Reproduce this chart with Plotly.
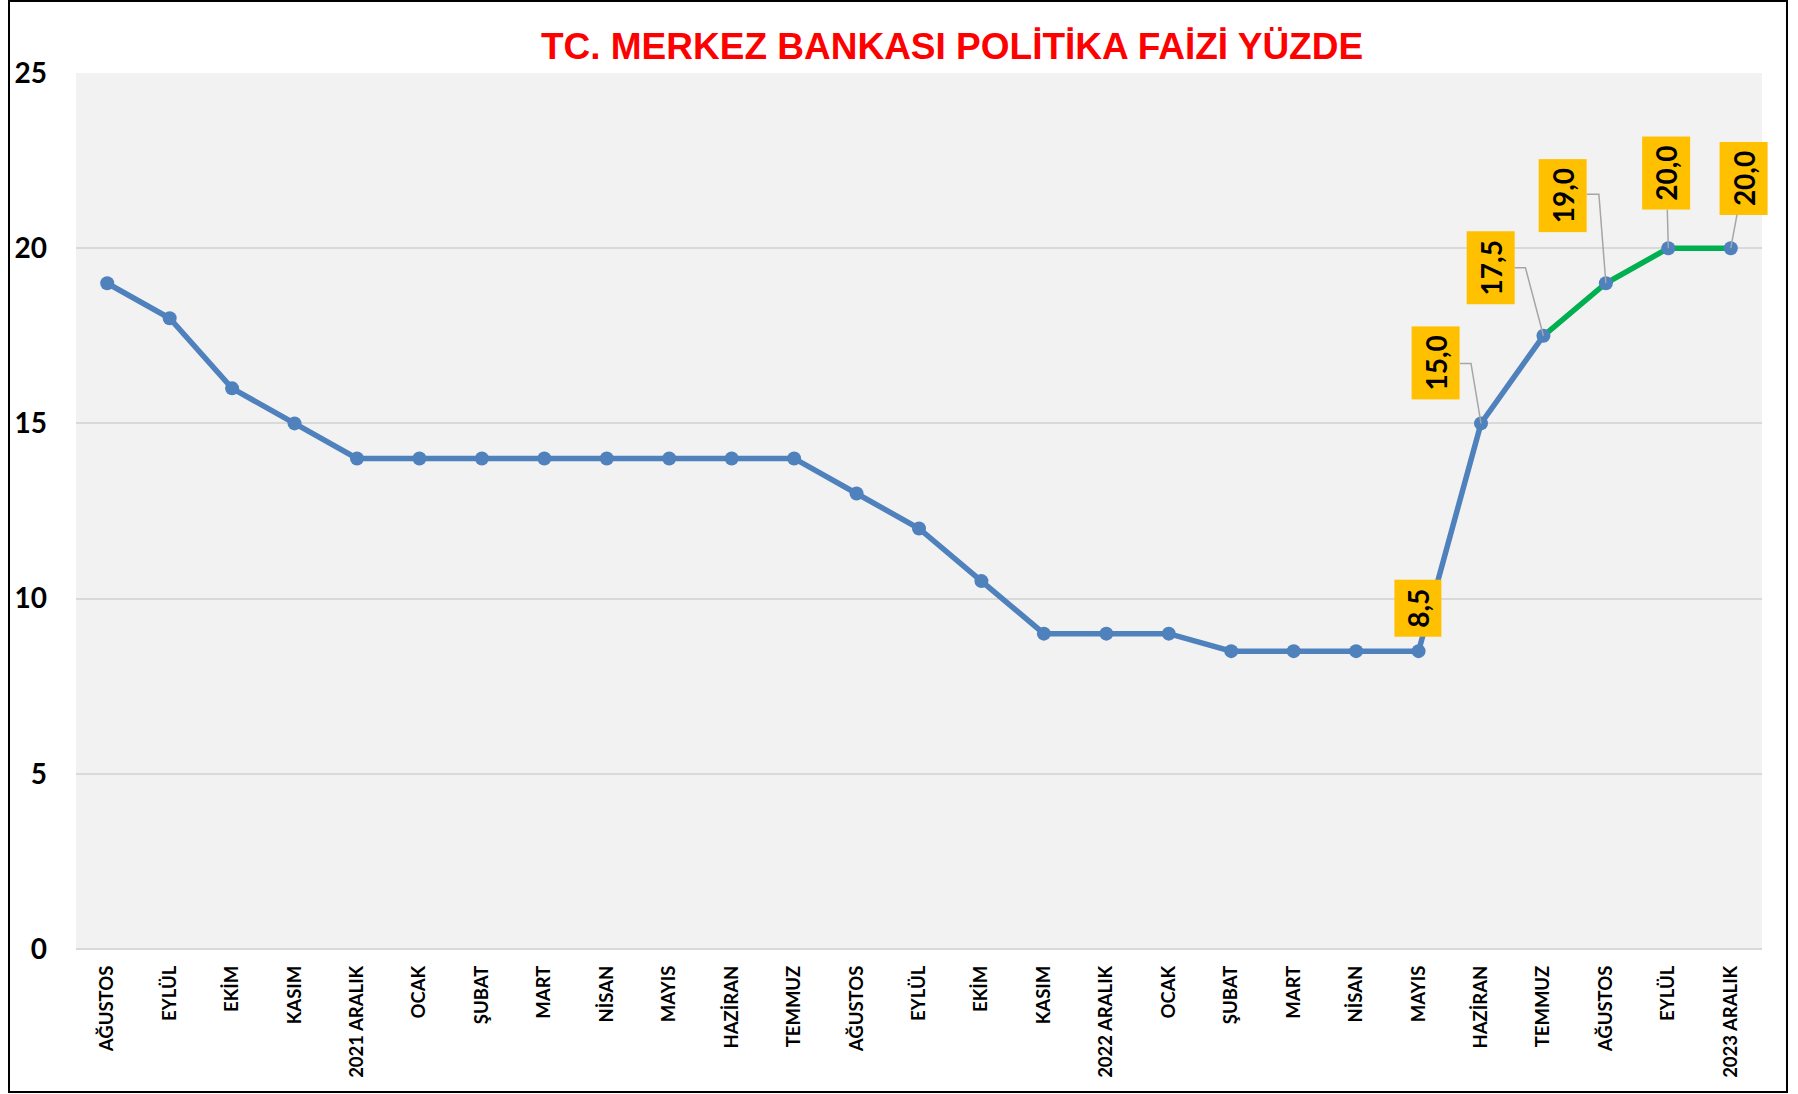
import plotly.graph_objects as go

months = ["AĞUSTOS", "EYLÜL", "EKİM", "KASIM", "2021 ARALIK", "OCAK", "ŞUBAT", "MART",
          "NİSAN", "MAYIS", "HAZİRAN", "TEMMUZ", "AĞUSTOS", "EYLÜL", "EKİM", "KASIM",
          "2022 ARALIK", "OCAK", "ŞUBAT", "MART", "NİSAN", "MAYIS", "HAZİRAN", "TEMMUZ",
          "AĞUSTOS", "EYLÜL", "2023 ARALIK"]
rates = [19, 18, 16, 15, 14, 14, 14, 14, 14, 14, 14, 14, 13, 12, 10.5, 9,
         9, 9, 8.5, 8.5, 8.5, 8.5, 15, 17.5, 19, 20, 20]
green_start = 23          # index where the green (projection) segment starts
labelled = [21, 22, 23, 24, 25, 26]   # indices with value boxes
y_ticks = [0, 5, 10, 15, 20, 25]

# label box placement (pixel offsets from point, box size along/across text)
label_offsets = {21: (-1, -43, 57, 47), 22: (-45, -60, 73, 48), 23: (-53, -68, 73, 48),
                 24: (-43, -88, 73, 48), 25: (-2, -75, 73, 48), 26: (13, -70, 73, 48)}
# elbow leader lines (pixel offsets from point: box edge, elbow), y upward
elbow_leaders = {22: ((-21, 60), (-10, 60)), 23: ((-29, 68), (-18, 68)),
                 24: ((-19, 89), (-7, 89))}

BLUE = "#4F81BD"
GREEN = "#00B050"
LEADER = "#A6A6A6"
xs = list(range(len(months)))

fig = go.Figure()
fig.add_trace(go.Scatter(x=xs[:green_start + 1], y=rates[:green_start + 1], mode="lines",
                         line=dict(color=BLUE, width=5.5), hoverinfo="skip", showlegend=False))
fig.add_trace(go.Scatter(x=xs[green_start:], y=rates[green_start:], mode="lines",
                         line=dict(color=GREEN, width=5.5), hoverinfo="skip", showlegend=False))
fig.add_trace(go.Scatter(x=xs, y=rates, mode="markers",
                         marker=dict(color=BLUE, size=14), showlegend=False))

for i, ((x1, y1), (x2, y2)) in elbow_leaders.items():
    fig.add_shape(type="path", xref="x", yref="y", xsizemode="pixel", ysizemode="pixel",
                  xanchor=xs[i], yanchor=rates[i],
                  path=f"M {x1} {y1} L {x2} {y2} L 0 0",
                  line=dict(color=LEADER, width=1.5), layer="above")

for i in labelled:
    ax, ay, w, h = label_offsets[i]
    fig.add_annotation(
        x=xs[i], y=rates[i], xref="x", yref="y",
        text=f"{rates[i]:.1f}".replace(".", ","),
        textangle=-90, showarrow=True, ax=ax, ay=ay, axref="pixel", ayref="pixel",
        arrowhead=0, arrowwidth=1.5, standoff=0,
        arrowcolor="rgba(0,0,0,0)" if (i == 21 or i in elbow_leaders) else LEADER,
        bgcolor="#FFC000", borderpad=0, borderwidth=0, width=w, height=h,
        font=dict(family="Lato", size=28, color="black", weight="bold"),
    )

# outer frame
fig.add_shape(type="rect", xref="paper", yref="paper",
              x0=(9 - 76) / 1686, x1=(1787 - 76) / 1686,
              y0=(949 - 1092) / 876, y1=(949 - 1) / 876,
              line=dict(color="black", width=2), fillcolor="rgba(0,0,0,0)", layer="above")

fig.update_layout(
    width=1798, height=1094,
    margin=dict(l=76, r=36, t=73, b=145),
    paper_bgcolor="white", plot_bgcolor="#F2F2F2",
    title=dict(text="TC. MERKEZ BANKASI POLİTİKA FAİZİ YÜZDE", x=952 / 1798, xanchor="center",
               y=1 - 46 / 1094, yanchor="middle", xref="container", yref="container",
               font=dict(family="Liberation Sans", size=37, color="#FF0000", weight="bold")),
    xaxis=dict(range=[-0.5, len(months) - 0.5], tickvals=xs, ticktext=months, tickangle=-90,
               showgrid=False, zeroline=False, showline=False, ticks="",
               ticklabelstandoff=12,
               tickfont=dict(family="Lato", size=18.5, color="black", weight="bold")),
    yaxis=dict(range=[0, 25], tickvals=y_ticks, showgrid=True, gridcolor="#D9D9D9", gridwidth=2,
               zeroline=True, zerolinecolor="#D9D9D9", zerolinewidth=2, showline=False,
               ticks="", ticklabelstandoff=28,
               tickfont=dict(family="Lato", size=28, color="black", weight="bold")),
)

fig.write_html("out.html", config={"displayModeBar": False},
               post_script="document.body.style.margin='0';document.body.style.overflow='hidden';")
